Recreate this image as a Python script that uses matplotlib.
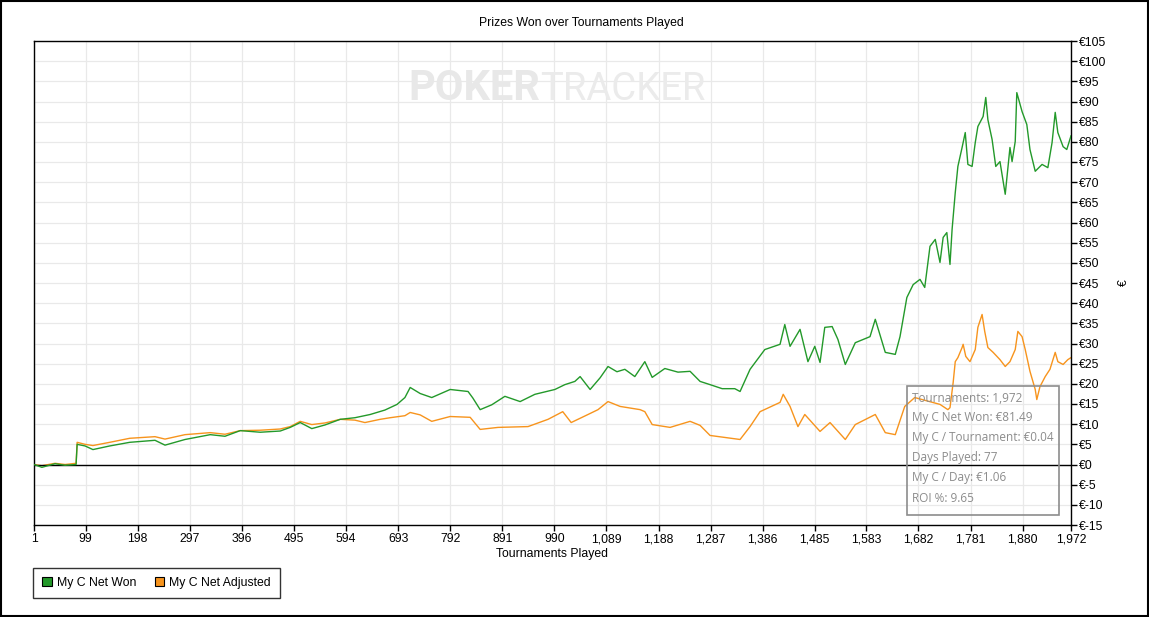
import matplotlib
matplotlib.use("Agg")
import matplotlib.pyplot as plt
from matplotlib.patches import Rectangle, Patch

plt.rcParams['font.family'] = ['Liberation Sans', 'DejaVu Sans']

# tournaments / cumulative winnings
won_t = [1, 16, 41, 60, 81, 83, 98, 113, 145, 183, 231, 250, 288, 336, 364, 393, 431, 469, 488,
         507, 529, 554, 583, 611, 640, 668, 691, 706, 716, 735, 757, 792, 826, 835, 849, 871, 896,
         925, 953, 972, 991, 1010, 1029, 1039, 1058, 1077, 1092, 1109, 1124, 1143, 1162, 1176, 1200,
         1225, 1248, 1267, 1286, 1309, 1333, 1343, 1362, 1390, 1419, 1428, 1438, 1457, 1472, 1485,
         1495, 1504, 1518, 1529, 1543, 1562, 1590, 1600, 1619, 1638, 1647, 1656, 1660, 1672, 1685,
         1694, 1704, 1714, 1723, 1729, 1736, 1742, 1746, 1752, 1757, 1765, 1771, 1776, 1784, 1790,
         1795, 1805, 1810, 1814, 1822, 1829, 1837, 1847, 1856, 1860, 1866, 1869, 1879, 1888, 1894,
         1904, 1917, 1928, 1936, 1942, 1947, 1957, 1964, 1972]
won = [0, -0.7, 0.2, -0.2, 0, 5.0, 4.6, 3.7, 4.6, 5.5, 6.0, 4.8, 6.2, 7.4, 7.0, 8.4, 8.0, 8.3, 9.2,
       10.4, 8.9, 9.8, 11.2, 11.6, 12.4, 13.5, 14.9, 16.6, 19.1, 17.6, 16.6, 18.6, 18.1, 16.5, 13.6,
       14.8, 16.9, 15.6, 17.4, 18.0, 18.6, 19.8, 20.6, 21.8, 18.6, 21.5, 24.3, 23.0, 23.6, 21.8,
       25.5, 21.6, 23.8, 22.9, 23.1, 20.6, 19.8, 18.8, 18.8, 18.1, 23.6, 28.5, 29.8, 34.7, 29.3,
       33.5, 25.5, 29.3, 25.3, 34.0, 34.2, 31.0, 24.8, 30.2, 31.7, 36.0, 27.8, 27.3, 31.7, 38.4,
       41.4, 44.6, 45.9, 43.9, 54.1, 55.8, 50.1, 56.3, 57.5, 49.6, 58.3, 67.4, 73.9, 78.6, 82.3,
       74.4, 73.9, 79.8, 83.8, 86.3, 91.0, 85.5, 80.6, 73.9, 75.1, 67.0, 78.6, 75.1, 80.1, 92.2,
       87.5, 84.3, 78.1, 72.7, 74.4, 73.6, 79.8, 87.3, 82.3, 78.8, 78.1, 81.49]

adj_t = [1, 16, 41, 60, 81, 83, 98, 113, 145, 183, 231, 250, 288, 336, 364, 393, 431, 469, 488,
         507, 529, 554, 583, 611, 630, 659, 678, 706, 716, 735, 757, 792, 830, 849, 883, 940, 978,
         1006, 1022, 1054, 1073, 1092, 1115, 1153, 1162, 1176, 1210, 1248, 1267, 1286, 1343, 1362,
         1381, 1419, 1425, 1438, 1453, 1466, 1495, 1514, 1543, 1562, 1600, 1619, 1638, 1656, 1675,
         1723, 1738, 1742, 1748, 1752, 1757, 1765, 1767, 1772, 1780, 1790, 1795, 1803, 1808, 1814,
         1824, 1837, 1847, 1856, 1866, 1871, 1879, 1885, 1894, 1904, 1907, 1913, 1923, 1932, 1942,
         1947, 1957, 1966, 1972]
adj = [0, -0.3, 0.3, 0, 0.3, 5.5, 5.0, 4.7, 5.5, 6.5, 6.9, 6.3, 7.4, 7.9, 7.5, 8.4, 8.5, 8.8, 9.4,
       10.7, 9.9, 10.3, 11.2, 11.0, 10.4, 11.2, 11.6, 12.1, 12.9, 12.3, 10.7, 11.9, 11.7, 8.7, 9.2,
       9.4, 11.2, 13.1, 10.4, 12.4, 13.6, 15.6, 14.4, 13.6, 13.1, 9.9, 9.2, 10.7, 9.7, 7.2, 6.2,
       9.4, 13.1, 15.4, 17.4, 14.4, 9.4, 12.4, 8.2, 10.4, 6.2, 9.9, 12.4, 7.9, 7.4, 14.4, 16.6,
       14.9, 13.6, 14.1, 20.3, 25.5, 26.5, 29.0, 29.8, 26.8, 25.5, 28.5, 34.0, 37.2, 33.0, 29.0,
       27.8, 26.0, 24.3, 25.5, 28.5, 33.0, 31.7, 28.5, 23.1, 18.6, 16.1, 19.3, 21.8, 23.6, 27.8,
       25.5, 24.8, 26.0, 26.5]

xticks = [1, 99, 198, 297, 396, 495, 594, 693, 792, 891, 990, 1089, 1188, 1287, 1386, 1485,
          1583, 1682, 1781, 1880, 1972]
yticks = list(range(-15, 106, 5))

info = ["Tournaments: 1,972", "My C Net Won: €81.49", "My C / Tournament: €0.04",
        "Days Played: 77", "My C / Day: €1.06", "ROI %: 9.65"]

green = '#23992a'
orange = '#f7941d'

fig = plt.figure(figsize=(11.49, 6.17), dpi=100)
ax = fig.add_axes([34/1149, 1-525/617, 1037/1149, 484/617])

ax.plot(won_t, won, color=green, lw=1.0, zorder=3)
ax.plot(adj_t, adj, color=orange, lw=1.0, zorder=2)
ax.axhline(0, color='black', lw=1.0, zorder=2.5)

ax.set_xlim(1, 1972)
ax.set_ylim(-15, 105)
ax.set_xticks(xticks)
ax.set_xticklabels([f"{t:,}" for t in xticks])
ax.set_yticks(yticks)
ax.set_yticklabels([f"€{v}" for v in yticks])
ax.yaxis.tick_right()
ax.yaxis.set_label_position('right')
ax.tick_params(axis='both', labelsize=8.8, length=4, width=1, color='black', pad=2)
ax.grid(True, color='#e9e9e9', lw=0.9)
ax.set_axisbelow(True)
for s in ax.spines.values():
    s.set_color('black')
    s.set_linewidth(1.0)

ax.set_xlabel("Tournaments Played", fontsize=8.8, labelpad=2)
ax.set_ylabel("€", fontsize=8.8)
ax.yaxis.set_label_coords((1118 - 34) / 1037, 0.5)

fig.text(581/1149, 1-23/617, "Prizes Won over Tournaments Played", ha='center', va='center', fontsize=8.8)

# watermark
fig.text(540/1149, 1-89/617, "POKER", ha='right', va='center', fontsize=30, fontweight='bold',
         color='#e8e8e8', zorder=0, family='Roboto')
fig.text(540/1149, 1-89/617, "TRACKER", ha='left', va='center', fontsize=27.5,
         color='#ebebeb', zorder=0, family='Roboto')

# info box
box = Rectangle((907/1149, 1-515/617), 152/1149, 129/617, transform=fig.transFigure,
                facecolor='none', edgecolor='#8c8c8c', lw=1.2, zorder=5)
fig.patches.append(box)
for i, line in enumerate(info):
    fig.text(912/1149, 1-(398 + 20*i)/617, line, ha='left', va='center', fontsize=8.5,
             color='#8c8c8c', family='Open Sans')

handles = [Patch(facecolor=green, edgecolor='black', lw=0.8, label="My C Net Won"),
           Patch(facecolor=orange, edgecolor='black', lw=0.8, label="My C Net Adjusted")]
leg = fig.legend(handles=handles, loc='lower left', bbox_to_anchor=(33/1149, 1-598/617), ncol=2,
                 fontsize=8.8, frameon=True, fancybox=False, edgecolor='black', handlelength=0.8,
                 handleheight=0.8, handletextpad=0.4, columnspacing=1.5, borderpad=0.75,
                 borderaxespad=0)
leg.get_frame().set_linewidth(1.0)

fig.patches.append(Rectangle((0.0008, 0.0012), 0.9984, 0.9976, transform=fig.transFigure,
                             facecolor='none', edgecolor='black', lw=1.5))

fig.savefig("out.png", dpi=100)
